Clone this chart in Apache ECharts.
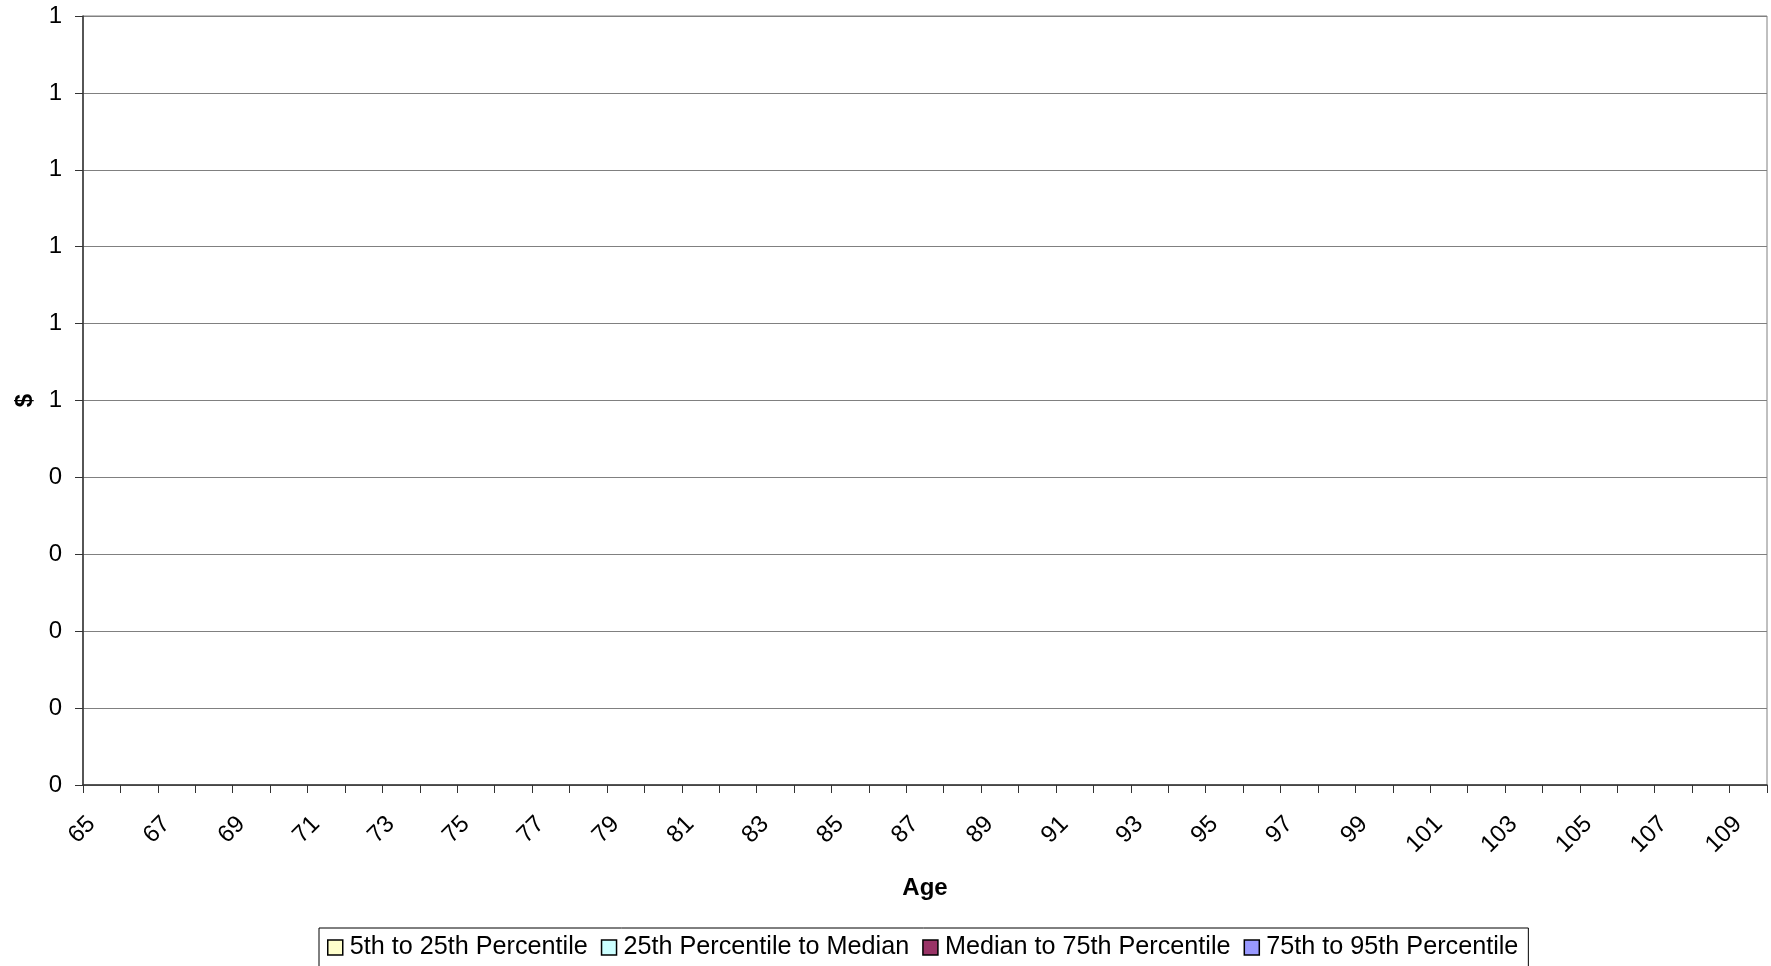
<!DOCTYPE html>
<html>
<head>
<meta charset="utf-8">
<script src="https://cdn.jsdelivr.net/npm/echarts@6/dist/echarts.min.js"></script>
<style>
  html, body { margin: 0; padding: 0; background: #ffffff; }
  #chart { width: 1771px; height: 966px; }
</style>
</head>
<body>
<div id="chart"></div>
<script>
// Ages along the horizontal axis
const ages = [];
for (let a = 65; a <= 110; a++) ages.push(String(a));

// Percentile band series (no values recorded)
const band5to25 = [];
const band25toMedian = [];
const bandMedianTo75 = [];
const band75to95 = [];

const seriesNames = [
  '5th to 25th Percentile',
  '25th Percentile to Median',
  'Median to 75th Percentile',
  '75th to 95th Percentile'
];
const seriesColors = ['#FFFFCC', '#CCFFFF', '#993366', '#9999FF'];
const seriesData = [band5to25, band25toMedian, bandMedianTo75, band75to95];

const font = '"Liberation Sans", Arial, sans-serif';

const chart = echarts.init(document.getElementById('chart'));
chart.setOption({
  animation: false,
  backgroundColor: '#ffffff',
  textStyle: { fontFamily: font },
  grid: {
    left: 83, right: 4, top: 16, bottom: 181,
    show: true, borderColor: '#808080', borderWidth: 1
  },
  legend: {
    top: 928,
    left: 319,
    data: seriesNames,
    icon: 'rect',
    itemWidth: 15,
    itemHeight: 15,
    itemGap: 13,
    padding: [7, 10, 9, 8],
    borderColor: '#000000',
    borderWidth: 1,
    itemStyle: { borderColor: '#000000', borderWidth: 1.5 },
    textStyle: { fontFamily: font, fontSize: 25.2, color: '#000000', padding: [0, 0, 0, 2] }
  },
  xAxis: {
    type: 'category',
    data: ages,
    boundaryGap: false,
    name: 'Age',
    nameLocation: 'middle',
    nameGap: 91,
    nameTextStyle: { fontFamily: font, fontSize: 24, fontWeight: 'bold', color: '#000000' },
    axisLine: { lineStyle: { color: '#333333', width: 1.5 } },
    axisTick: { show: true, interval: 0, length: 8, lineStyle: { color: '#333333' } },
    axisLabel: {
      interval: 1, rotate: 45, margin: 27, verticalAlign: 'top',
      fontFamily: font, fontSize: 24, color: '#000000'
    },
    splitLine: { show: false }
  },
  yAxis: {
    type: 'value',
    min: 0, max: 1, interval: 0.1,
    name: '$',
    nameLocation: 'middle',
    nameRotate: 90,
    nameGap: 46,
    nameTextStyle: { fontFamily: font, fontSize: 24, fontWeight: 'bold', color: '#000000' },
    axisLine: { show: true, lineStyle: { color: '#333333', width: 1.5 } },
    axisTick: { show: true, length: 8, lineStyle: { color: '#333333' } },
    axisLabel: {
      margin: 21, fontFamily: font, fontSize: 24, color: '#000000',
      formatter: v => String(Math.round(v + 1e-9))
    },
    splitLine: { show: true, lineStyle: { color: '#808080', width: 1 } }
  },
  series: seriesNames.map((name, i) => ({
    name: name,
    type: 'line',
    stack: 'bands',
    data: seriesData[i],
    symbol: 'none',
    lineStyle: { width: 0 },
    areaStyle: { color: seriesColors[i], opacity: 1 },
    itemStyle: { color: seriesColors[i], borderColor: '#000000', borderWidth: 1.5 }
  }))
});
</script>
</body>
</html>
